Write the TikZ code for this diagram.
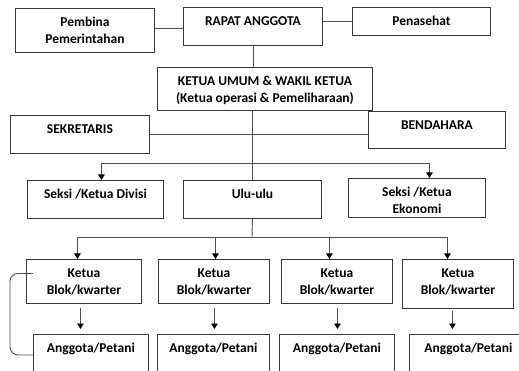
\documentclass[tikz,border=0pt]{standalone}
\usepackage{fontspec}
\setmainfont{Carlito}
\usetikzlibrary{arrows.meta}
\definecolor{orgedge}{RGB}{55,55,55}
\definecolor{orgwire}{RGB}{80,80,80}
\tikzset{
  orgbox/.style={draw=orgedge, line width=0.9pt, anchor=north west, align=center,
                 inner xsep=0pt, inner ysep=0pt, text height=18pt,
                 font=\fontsize{13.5}{17}\selectfont\bfseries},
  orgbox2/.style={orgbox, text height=35pt},
  orglink/.style={draw=orgwire, line width=0.9pt},
  orgarrow/.style={orglink, -{Triangle[length=5.5pt, width=6.5pt, color=black]}},
}
\begin{document}
\begin{tikzpicture}[x=1pt, y=-1pt]
    \clip (0,0) rectangle (519,371);
    % top row
    \node[orgbox2, minimum width=139pt, text depth=9pt]  (pembina)   at (15,8)  {Pembina\\Pemerintahan};
    \node[orgbox,  minimum width=139pt, text depth=20pt] (rapat)     at (183,7) {RAPAT ANGGOTA};
    \node[orgbox,  minimum width=138pt, text depth=10pt] (penasehat) at (352,7) {Penasehat};
    \node[orgbox2, minimum width=215pt, text depth=8pt]  (ketua)     at (157,67) {KETUA UMUM \& WAKIL KETUA\\(Ketua operasi \& Pemeliharaan)};
    \node[orgbox,  minimum width=139pt, text depth=20pt] (sekretaris) at (10,115) {SEKRETARIS};
    \node[orgbox,  minimum width=137pt, text depth=19pt] (bendahara) at (368,111) {BENDAHARA};
    % seksi row
    \node[orgbox,  minimum width=136pt, text depth=20pt] (divisi)  at (27,180)  {Seksi /Ketua Divisi};
    \node[orgbox,  minimum width=138pt, text depth=20pt] (ulu)     at (183,180) {Ulu-ulu};
    \node[orgbox2, minimum width=137pt, text depth=4pt]  (ekonomi) at (348,178) {Seksi /Ketua\\Ekonomi};
    % blok row
    \node[orgbox2, minimum width=115pt, text depth=9pt]  (blok1) at (26,259)  {Ketua\\Blok/kwarter};
    \node[orgbox2, minimum width=111pt, text depth=9pt]  (blok2) at (158,259) {Ketua\\Blok/kwarter};
    \node[orgbox2, minimum width=111pt, text depth=9pt]  (blok3) at (281,259) {Ketua\\Blok/kwarter};
    \node[orgbox2, minimum width=111pt, text depth=14pt] (blok4) at (402,259) {Ketua\\Blok/kwarter};
    \node[orgbox,  minimum width=115pt, text depth=32pt] (tani1) at (33,334)  {Anggota/Petani};
    \node[orgbox,  minimum width=112pt, text depth=32pt] (tani2) at (157,334) {Anggota/Petani};
    \node[orgbox,  minimum width=115pt, text depth=32pt] (tani3) at (279,334) {Anggota/Petani};
    \node[orgbox,  minimum width=118pt, text depth=32pt] (tani4) at (409,334) {Anggota/Petani};
    \coordinate (bus1) at (252,163);
    \coordinate (bus2) at (252,237);
    \coordinate (loop) at (10,300);
    % links
    \draw[orglink] ([yshift=2pt]pembina.east) -- ([yshift=2pt]pembina.east -| rapat.west);
    \draw[orglink] (penasehat.west) -- (penasehat.west -| rapat.east);
    \draw[orglink] (rapat.south) -- (rapat.south |- ketua.north);
    \draw[orglink] (ulu.north |- ketua.south) -- (ulu.north);
    \draw[orglink] (sekretaris.east) -- (sekretaris.east -| bendahara.west);
    \draw[orgarrow] (bus1) -| ([xshift=6pt]divisi.north);
    \draw[orgarrow] (bus1) -| ([xshift=12.5pt]ekonomi.north);
    \draw[orglink] (ulu.south) -- (bus2);
    \foreach \b/\dx in {1/-6.5, 2/1.5, 3/-7.5, 4/-10.5}
      \draw[orgarrow] (bus2) -| ([xshift=\dx pt]blok\b.north);
    \foreach \b/\dx/\gap in {1/-3.5/4, 2/0.5/4, 3/0.5/4, 4/-5.5/2}
      \draw[orgarrow, shorten <=\gap pt, shorten >=5pt]
        ([xshift=\dx pt]blok\b.south) -- ([xshift=\dx pt]blok\b.south |- tani\b.north);
    \draw[orglink, rounded corners=8pt] ([xshift=7pt, yshift=8pt]blok1.west) -| (loop) |- ([yshift=-21pt]tani1.north west);
\end{tikzpicture}
\end{document}
